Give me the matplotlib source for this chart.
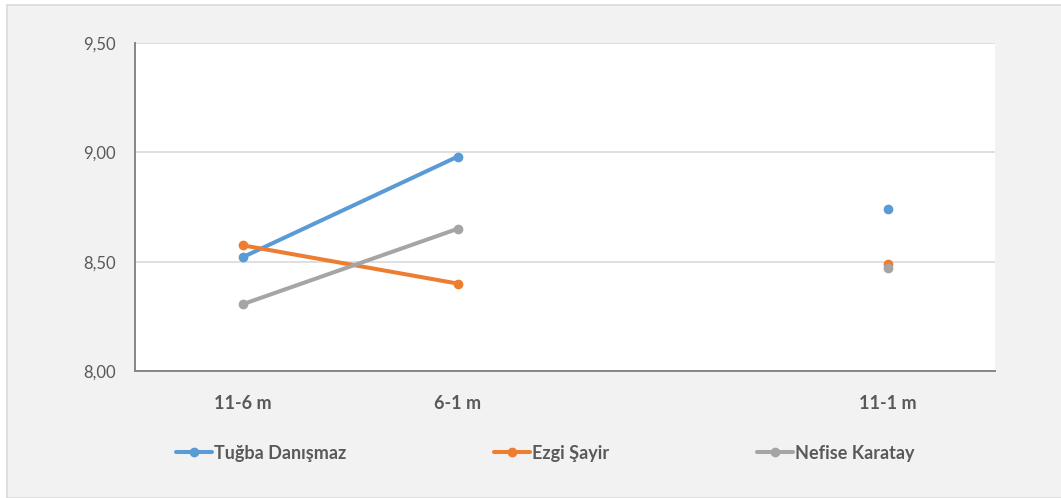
import matplotlib
matplotlib.use("Agg")
import matplotlib.pyplot as plt
from matplotlib.patches import Rectangle
import numpy as np

categories = ["11-6 m", "6-1 m", "", "11-1 m"]
tugba = [8.52, 8.98, np.nan, 8.74]
ezgi = [8.575, 8.40, np.nan, 8.49]
nefise = [8.305, 8.65, np.nan, 8.47]
series_names = ["Tuğba Danışmaz", "Ezgi Şayir", "Nefise Karatay"]
colors = ["#5B9BD5", "#ED7D31", "#A5A5A5"]
yticks = [8.0, 8.5, 9.0, 9.5]

plt.rcParams['font.family'] = ['Lato', 'DejaVu Sans']

W, H = 1061, 498
fig = plt.figure(figsize=(W / 100, H / 100), dpi=100)
fig.patch.set_facecolor("white")
bg = Rectangle((7 / W, 0), 1.0, (H - 5) / H, transform=fig.transFigure,
               facecolor="#F2F2F2", edgecolor="#D9D9D9", linewidth=1.2, zorder=-10)
fig.add_artist(bg)

ax = fig.add_axes([135 / W, (H - 371) / H, 860 / W, (371 - 43) / H])
ax.set_zorder(1)
ax.set_facecolor("white")
x = np.arange(len(categories))
for vals, name, c in zip([tugba, ezgi, nefise], series_names, colors):
    ax.plot(x, vals, color=c, lw=2.9, marker="o", markersize=6, label=name,
            solid_capstyle="round", zorder=3)

ax.set_xlim(-0.5, len(categories) - 0.5)
ax.set_ylim(8.0, 9.5)
ax.set_yticks(yticks)
ax.set_yticklabels([f"{v:.2f}".replace(".", ",") for v in yticks], fontsize=12, color="#595959")
ax.set_xticks(x)
ax.set_xticklabels(categories, fontsize=13, fontweight="bold", color="#595959")
ax.tick_params(axis="both", length=0)
ax.tick_params(axis="y", pad=14)
ax.tick_params(axis="x", pad=17)
ax.grid(axis="y", color="#D9D9D9", lw=1.2)
ax.set_axisbelow(True)
for s in ["top", "right"]:
    ax.spines[s].set_visible(False)
for s in ["left", "bottom"]:
    ax.spines[s].set_color("#868686")
    ax.spines[s].set_linewidth(1.4)

leg = fig.legend(loc="center", bbox_to_anchor=(545 / W, (H - 453) / H), ncol=3,
                 frameon=False, handlelength=2.0, handletextpad=0.1,
                 columnspacing=8.2,
                 prop={"size": 13, "weight": "bold"})
for t in leg.get_texts():
    t.set_color("#595959")

fig.savefig("out.png", dpi=100, facecolor=fig.get_facecolor())
